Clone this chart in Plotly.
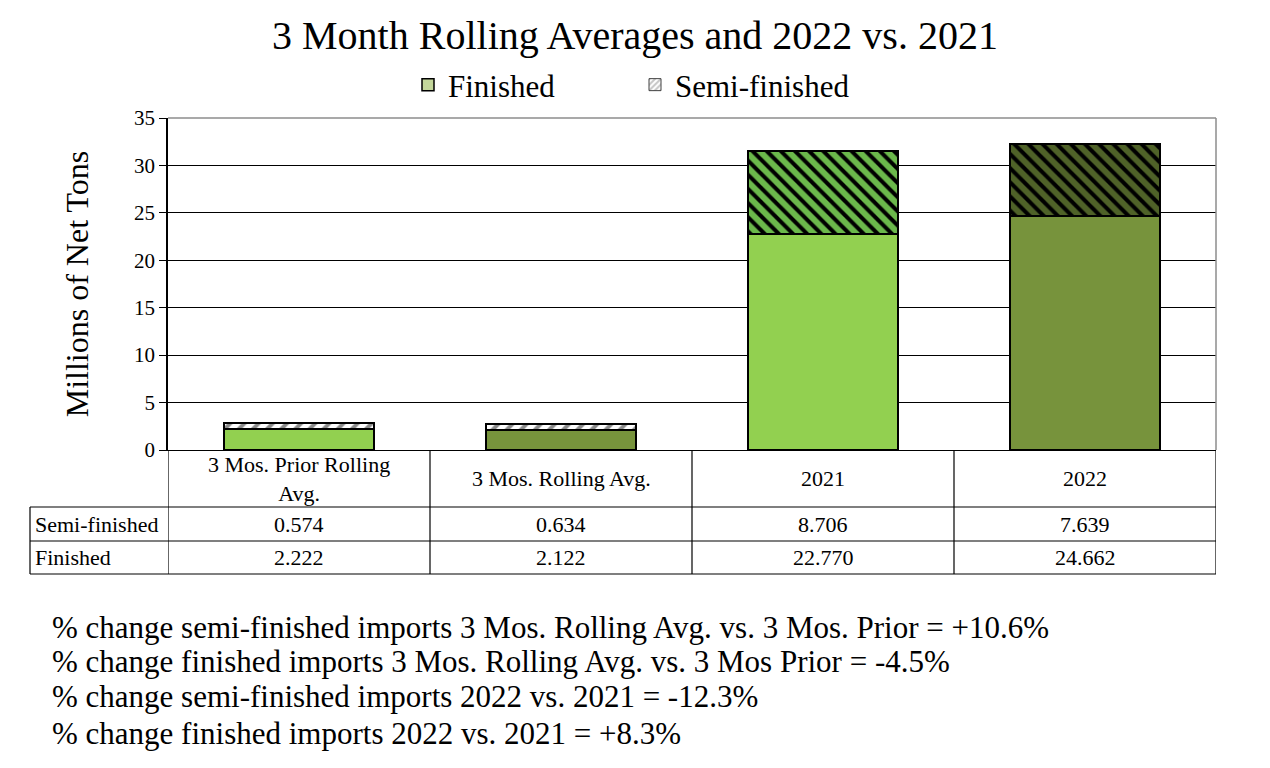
import plotly.graph_objects as go

categories = ["3 Mos. Prior Rolling<br>Avg.", "3 Mos. Rolling Avg.", "2021", "2022"]
finished = [2.222, 2.122, 22.770, 24.662]
semi_finished = [0.574, 0.634, 8.706, 7.639]
finished_colors = ["#92D050", "#77933C", "#92D050", "#77933C"]
semi_bg = ["#FFFFFF", "#FFFFFF", "#6BB84B", "#4F6228"]
semi_fg = ["#8C8C8C", "#8C8C8C", "#000000", "#000000"]
semi_shape = ["/", "/", "\\", "\\"]
notes = [
    "% change semi-finished imports 3 Mos. Rolling Avg. vs. 3 Mos. Prior = +10.6%",
    "% change finished imports 3 Mos. Rolling Avg. vs. 3 Mos Prior = -4.5%",
    "% change semi-finished imports 2022 vs. 2021 = -12.3%",
    "% change finished imports 2022 vs. 2021 = +8.3%",
]

FONT = "Liberation Serif"
W, H = 1270, 768
L, R, T, B = 168, 1216, 118, 450
pw, ph = R - L, B - T

def py(pix):
    return (B - pix) / ph

def px(pix):
    return (pix - L) / pw

x = list(range(len(categories)))

fig = go.Figure()
fig.add_trace(go.Bar(
    x=x, y=finished, width=0.57, showlegend=False, name="Finished",
    marker=dict(color=finished_colors, line=dict(color="black", width=2)),
))
for i in x:
    fig.add_trace(go.Bar(
        x=[x[i]], y=[semi_finished[i]], width=0.57, showlegend=False, name="Semi-finished",
        marker=dict(color=semi_bg[i], line=dict(color="black", width=2),
                    pattern=dict(shape=semi_shape[i], fgcolor=semi_fg[i], bgcolor=semi_bg[i],
                                 size=10, solidity=0.4, fillmode="replace")),
    ))
# legend-only entries
fig.add_trace(go.Bar(
    x=[None], y=[None], name="Finished",
    marker=dict(color="#C4D79B", line=dict(color="black", width=1.5)),
))
fig.add_trace(go.Bar(
    x=[None], y=[None], name="Semi-finished",
    marker=dict(color="#FFFFFF", line=dict(color="#404040", width=1),
                pattern=dict(shape="/", fgcolor="#8C8C8C", bgcolor="#FFFFFF",
                             size=5, solidity=0.5)),
))

shapes = []
line = dict(color="black", width=1.2)
shapes.append(dict(type="line", xref="paper", yref="paper", x0=0, x1=1, y0=1, y1=1,
                   line=dict(color="#8C8C8C", width=1.5)))
shapes.append(dict(type="line", xref="paper", yref="paper", x0=1, x1=1, y0=0, y1=1,
                   line=dict(color="#8C8C8C", width=1.5)))
for yy in [507, 541, 574]:
    shapes.append(dict(type="line", xref="paper", yref="paper", x0=px(30), x1=1,
                       y0=py(yy), y1=py(yy), line=line))
shapes.append(dict(type="line", xref="paper", yref="paper", x0=px(30), x1=px(30),
                   y0=py(507), y1=py(574), line=line))
for i in range(len(categories) + 1):
    shapes.append(dict(type="line", xref="x", yref="paper", x0=i - 0.5, x1=i - 0.5,
                       y0=0, y1=py(574), line=line))

annotations = []
tfont = dict(family=FONT, size=22, color="black")
for i, c in enumerate(categories):
    annotations.append(dict(xref="x", yref="paper", x=i, y=py(478.5), text=c,
                            showarrow=False, font=tfont, yanchor="middle"))
    annotations.append(dict(xref="x", yref="paper", x=i, y=py(524), text=f"{semi_finished[i]:.3f}",
                            showarrow=False, font=tfont, yanchor="middle"))
    annotations.append(dict(xref="x", yref="paper", x=i, y=py(557.5), text=f"{finished[i]:.3f}",
                            showarrow=False, font=tfont, yanchor="middle"))
annotations.append(dict(xref="paper", yref="paper", x=px(33), y=py(524), text="Semi-finished",
                        showarrow=False, font=tfont, xanchor="left", yanchor="middle"))
annotations.append(dict(xref="paper", yref="paper", x=px(33), y=py(557.5), text="Finished",
                        showarrow=False, font=tfont, xanchor="left", yanchor="middle"))
for n, yy in zip(notes, [627, 661, 696, 733]):
    annotations.append(dict(xref="paper", yref="paper", x=px(50), y=py(yy), text=n,
                            showarrow=False, font=dict(family=FONT, size=31, color="black"),
                            xanchor="left", yanchor="middle"))

fig.update_layout(
    width=W, height=H,
    barmode="stack",
    paper_bgcolor="white", plot_bgcolor="white",
    margin=dict(l=L, r=W - R, t=T, b=H - B, pad=0),
    title=dict(text="3 Month Rolling Averages and 2022 vs. 2021", x=0.5, xanchor="center",
               y=1 - 35 / H, yanchor="middle", yref="container",
               font=dict(family=FONT, size=40, color="black")),
    legend=dict(orientation="h", x=px(408), xanchor="left", y=py(85), yanchor="middle",
                traceorder="normal",
                font=dict(family=FONT, size=31, color="black"),
                entrywidth=182, entrywidthmode="pixels", itemwidth=30),
    xaxis=dict(range=[-0.5, 3.5], showticklabels=False, showgrid=False, zeroline=False,
               showline=True, linecolor="black", linewidth=1.2, ticks=""),
    yaxis=dict(range=[0, 35], dtick=5, showgrid=True, gridcolor="black", gridwidth=1,
               showline=True, linecolor="black", linewidth=1.5, ticks="outside",
               ticklen=7, tickcolor="black", zeroline=False,
               tickfont=dict(family=FONT, size=21, color="black"),
               title=dict(text="Millions of Net Tons", standoff=36,
                          font=dict(family=FONT, size=32, color="black"))),
    shapes=shapes, annotations=annotations,
    showlegend=True,
)

fig.write_html("out.html", config={"displayModeBar": False},
               post_script="document.body.style.margin='0';")
